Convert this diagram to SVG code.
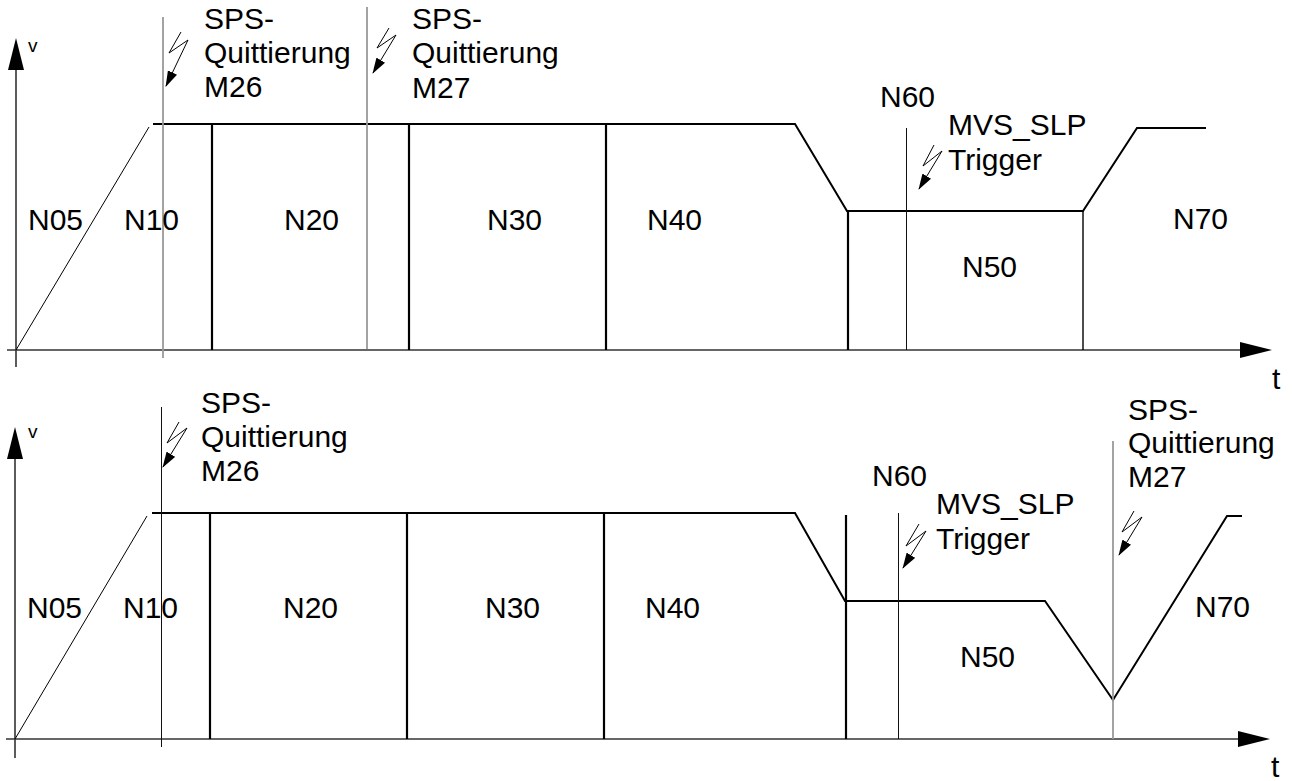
<svg xmlns="http://www.w3.org/2000/svg" width="1292" height="781" viewBox="0 0 1292 781">
<defs>
<marker id="bolt" markerUnits="userSpaceOnUse" markerWidth="16" markerHeight="10" refX="15" refY="5" orient="auto" viewBox="0 0 16 10">
<path d="M0,0 L16,5 L0,10 z" fill="#000"/>
</marker>
</defs>
<style>
text{font-family:"Liberation Sans",Arial,sans-serif;fill:#000}
.lbl{font-size:30px}
.v{font-size:19px}
.axis{stroke:#333;stroke-width:1.6;fill:none}
.prof{stroke:#000;stroke-width:2;fill:none}
.ramp{stroke:#000;stroke-width:1;fill:none}
.blk{stroke:#000;stroke-width:2.2}
.mid{stroke:#000;stroke-width:1.4}
.thin{stroke:#111;stroke-width:1}
.gray{stroke:#999;stroke-width:1.8}
.bolt{stroke:#000;stroke-width:1;fill:none;marker-end:url(#bolt)}
</style>
<rect width="1292" height="781" fill="#fff"/>

<g id="chart-top">
<g id="axes-top">
<line class="axis" x1="16" y1="367" x2="16" y2="66"/>
<polygon points="16,38 8,70 24,70" fill="#000"/>
<line class="axis" x1="7" y1="350" x2="1244" y2="350"/>
<polygon points="1272,350 1240,342 1240,358" fill="#000"/>
<text class="v" x="28" y="52">v</text>
<text class="lbl" x="1272" y="389">t</text>
</g>
<g id="profile-top">
<line class="ramp" x1="16" y1="350" x2="149" y2="127"/>
<polyline class="prof" points="153,124 795,124 847,211 1083,211 1137,128 1206,128"/>
<line class="gray" x1="163" y1="17" x2="163" y2="358"/>
<line class="gray" x1="367" y1="7" x2="367" y2="349"/>
<line class="blk" x1="212" y1="124" x2="212" y2="350"/>
<line class="blk" x1="409" y1="124" x2="409" y2="350"/>
<line class="blk" x1="606" y1="124" x2="606" y2="350"/>
<line class="blk" x1="848" y1="211" x2="848" y2="350"/>
<line class="thin" x1="906.5" y1="128" x2="906.5" y2="350"/>
<line class="mid" x1="1083" y1="211" x2="1083" y2="350"/>
</g>
<g id="triggers-top">
<polyline class="bolt" points="181,32 169,53 188,40 166,86"/>
<polyline class="bolt" points="389,28 377,48 396,35 373,73"/>
<polyline class="bolt" points="934,145 923,166 942,151 919,189"/>
<text class="lbl" x="204" y="29">SPS-</text>
<text class="lbl" x="204" y="63">Quittierung</text>
<text class="lbl" x="204" y="97">M26</text>
<text class="lbl" x="412" y="29">SPS-</text>
<text class="lbl" x="412" y="63">Quittierung</text>
<text class="lbl" x="412" y="98">M27</text>
<text class="lbl" x="880" y="107">N60</text>
<text class="lbl" x="948" y="135">MVS_SLP</text>
<text class="lbl" x="948" y="170">Trigger</text>
</g>
<g id="blocks-top">
<text class="lbl" x="28" y="230">N05</text>
<text class="lbl" x="124" y="230">N10</text>
<text class="lbl" x="284" y="230">N20</text>
<text class="lbl" x="487" y="230">N30</text>
<text class="lbl" x="647" y="230">N40</text>
<text class="lbl" x="962" y="277">N50</text>
<text class="lbl" x="1173" y="229">N70</text>
</g>
</g>

<g id="chart-bottom">
<g id="axes-bottom">
<line class="axis" x1="15" y1="758" x2="15" y2="455"/>
<polygon points="15,427 7,459 23,459" fill="#000"/>
<line class="axis" x1="6" y1="739" x2="1242" y2="739"/>
<polygon points="1270,739 1238,731 1238,747" fill="#000"/>
<text class="v" x="28" y="438">v</text>
<text class="lbl" x="1271" y="777">t</text>
</g>
<g id="profile-bottom">
<line class="ramp" x1="15" y1="739" x2="147" y2="516"/>
<polyline class="prof" points="152,513 795,513 845,601 1045,601 1113,700 1227,516 1242,516"/>
<line class="thin" x1="161.5" y1="407" x2="161.5" y2="747"/>
<line class="gray" x1="1113" y1="441" x2="1113" y2="739"/>
<line class="blk" x1="210" y1="513" x2="210" y2="739"/>
<line class="blk" x1="407" y1="513" x2="407" y2="739"/>
<line class="blk" x1="604" y1="513" x2="604" y2="739"/>
<line class="blk" x1="846" y1="515" x2="846" y2="739"/>
<line class="thin" x1="898.5" y1="513" x2="898.5" y2="739"/>
</g>
<g id="triggers-bottom">
<polyline class="bolt" points="179,422 167,443 187,428 163,467"/>
<polyline class="bolt" points="919,524 906,546 926,531 903,568"/>
<polyline class="bolt" points="1134,511 1122,532 1142,517 1119,555"/>
<text class="lbl" x="201" y="413">SPS-</text>
<text class="lbl" x="201" y="447">Quittierung</text>
<text class="lbl" x="201" y="481">M26</text>
<text class="lbl" x="1128" y="420">SPS-</text>
<text class="lbl" x="1128" y="453">Quittierung</text>
<text class="lbl" x="1128" y="487">M27</text>
<text class="lbl" x="872" y="486">N60</text>
<text class="lbl" x="936" y="514">MVS_SLP</text>
<text class="lbl" x="936" y="549">Trigger</text>
</g>
<g id="blocks-bottom">
<text class="lbl" x="27" y="618">N05</text>
<text class="lbl" x="123" y="618">N10</text>
<text class="lbl" x="283" y="618">N20</text>
<text class="lbl" x="485" y="618">N30</text>
<text class="lbl" x="645" y="618">N40</text>
<text class="lbl" x="960" y="667">N50</text>
<text class="lbl" x="1195" y="617">N70</text>
</g>
</g>
</svg>
